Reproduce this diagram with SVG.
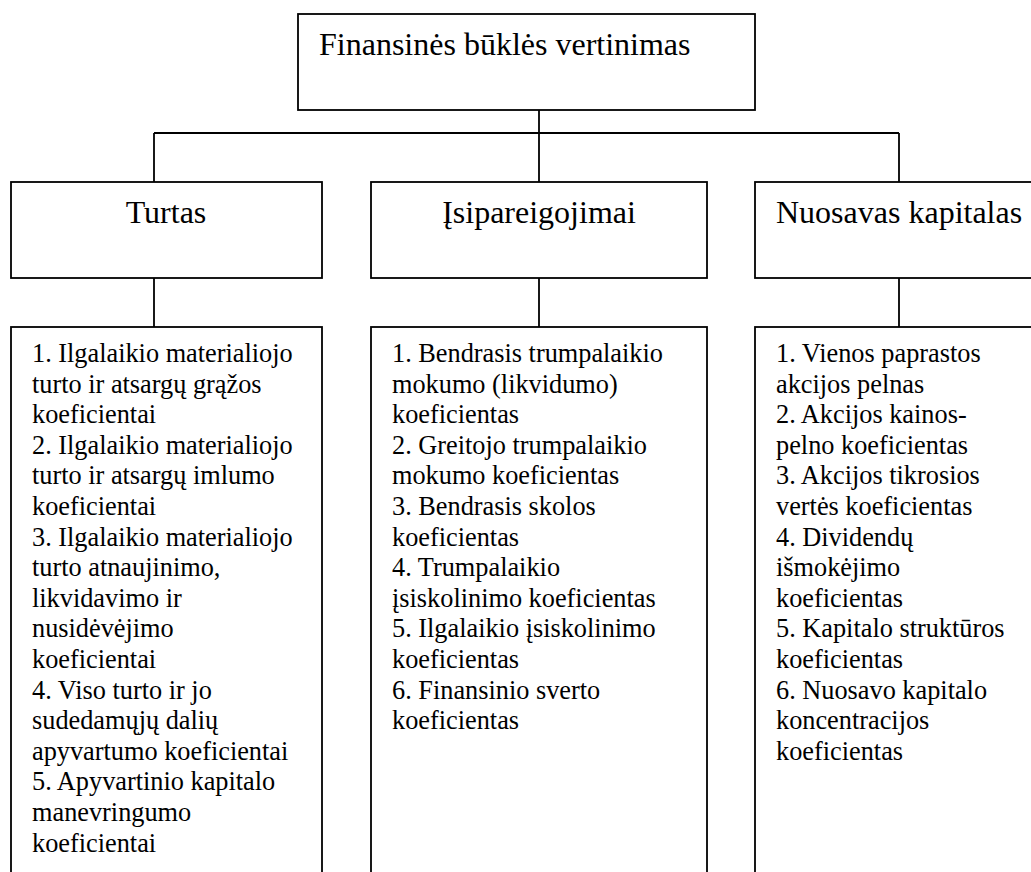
<svg xmlns="http://www.w3.org/2000/svg" width="1031" height="872" viewBox="0 0 1031 872">
<style>
.box{fill:#fff;stroke:#000;stroke-width:1.8}
.ln{stroke:#000;stroke-width:1.8;fill:none}
.h{font-family:"Liberation Serif","Times New Roman",serif;font-size:32px;fill:#000}
.b{font-family:"Liberation Serif","Times New Roman",serif;font-size:26.3px;fill:#000}
</style>
<rect width="1031" height="872" fill="#fff"/>
<g id="connectors">
<line class="ln" x1="539" y1="110" x2="539" y2="182"/>
<line class="ln" x1="154" y1="133" x2="899" y2="133"/>
<line class="ln" x1="154" y1="133" x2="154" y2="182"/>
<line class="ln" x1="899" y1="133" x2="899" y2="182"/>
<line class="ln" x1="154" y1="278" x2="154" y2="327"/>
<line class="ln" x1="539" y1="278" x2="539" y2="327"/>
<line class="ln" x1="899" y1="278" x2="899" y2="327"/>
</g>
<g id="root">
<rect class="box" x="298" y="14" width="457" height="96"/>
<text class="h" x="319" y="55">Finansinės būklės vertinimas</text>
</g>
<g id="turtas">
<rect class="box" x="11" y="182" width="311" height="96"/>
<text class="h" x="166" y="223" text-anchor="middle">Turtas</text>
</g>
<g id="isipareigojimai">
<rect class="box" x="371" y="182" width="336" height="96"/>
<text class="h" x="539" y="223" text-anchor="middle">Įsipareigojimai</text>
</g>
<g id="nuosavas">
<rect class="box" x="755" y="182" width="300" height="96"/>
<text class="h" x="776" y="223">Nuosavas kapitalas</text>
</g>
<g id="turtas-list">
<rect class="box" x="11" y="327" width="311" height="560"/>
<text class="b">
<tspan x="32" y="362">1. Ilgalaikio materialiojo</tspan>
<tspan x="32" y="392.6">turto ir atsargų grąžos</tspan>
<tspan x="32" y="423.2">koeficientai</tspan>
<tspan x="32" y="453.8">2. Ilgalaikio materialiojo</tspan>
<tspan x="32" y="484.4">turto ir atsargų imlumo</tspan>
<tspan x="32" y="515">koeficientai</tspan>
<tspan x="32" y="545.6">3. Ilgalaikio materialiojo</tspan>
<tspan x="32" y="576.2">turto atnaujinimo,</tspan>
<tspan x="32" y="606.8">likvidavimo ir</tspan>
<tspan x="32" y="637.4">nusidėvėjimo</tspan>
<tspan x="32" y="668">koeficientai</tspan>
<tspan x="32" y="698.6">4. Viso turto ir jo</tspan>
<tspan x="32" y="729.2">sudedamųjų dalių</tspan>
<tspan x="32" y="759.8">apyvartumo koeficientai</tspan>
<tspan x="32" y="790.4">5. Apyvartinio kapitalo</tspan>
<tspan x="32" y="821">manevringumo</tspan>
<tspan x="32" y="851.6">koeficientai</tspan>
</text>
</g>
<g id="isipareigojimai-list">
<rect class="box" x="371" y="327" width="336" height="560"/>
<text class="b">
<tspan x="392" y="362">1. Bendrasis trumpalaikio</tspan>
<tspan x="392" y="392.6">mokumo (likvidumo)</tspan>
<tspan x="392" y="423.2">koeficientas</tspan>
<tspan x="392" y="453.8">2. Greitojo trumpalaikio</tspan>
<tspan x="392" y="484.4">mokumo koeficientas</tspan>
<tspan x="392" y="515">3. Bendrasis skolos</tspan>
<tspan x="392" y="545.6">koeficientas</tspan>
<tspan x="392" y="576.2">4. Trumpalaikio</tspan>
<tspan x="392" y="606.8">įsiskolinimo koeficientas</tspan>
<tspan x="392" y="637.4">5. Ilgalaikio įsiskolinimo</tspan>
<tspan x="392" y="668">koeficientas</tspan>
<tspan x="392" y="698.6">6. Finansinio sverto</tspan>
<tspan x="392" y="729.2">koeficientas</tspan>
</text>
</g>
<g id="nuosavas-list">
<rect class="box" x="755" y="327" width="300" height="560"/>
<text class="b">
<tspan x="776" y="362">1. Vienos paprastos</tspan>
<tspan x="776" y="392.6">akcijos pelnas</tspan>
<tspan x="776" y="423.2">2. Akcijos kainos-</tspan>
<tspan x="776" y="453.8">pelno koeficientas</tspan>
<tspan x="776" y="484.4">3. Akcijos tikrosios</tspan>
<tspan x="776" y="515">vertės koeficientas</tspan>
<tspan x="776" y="545.6">4. Dividendų</tspan>
<tspan x="776" y="576.2">išmokėjimo</tspan>
<tspan x="776" y="606.8">koeficientas</tspan>
<tspan x="776" y="637.4">5. Kapitalo struktūros</tspan>
<tspan x="776" y="668">koeficientas</tspan>
<tspan x="776" y="698.6">6. Nuosavo kapitalo</tspan>
<tspan x="776" y="729.2">koncentracijos</tspan>
<tspan x="776" y="759.8">koeficientas</tspan>
</text>
</g>
</svg>
